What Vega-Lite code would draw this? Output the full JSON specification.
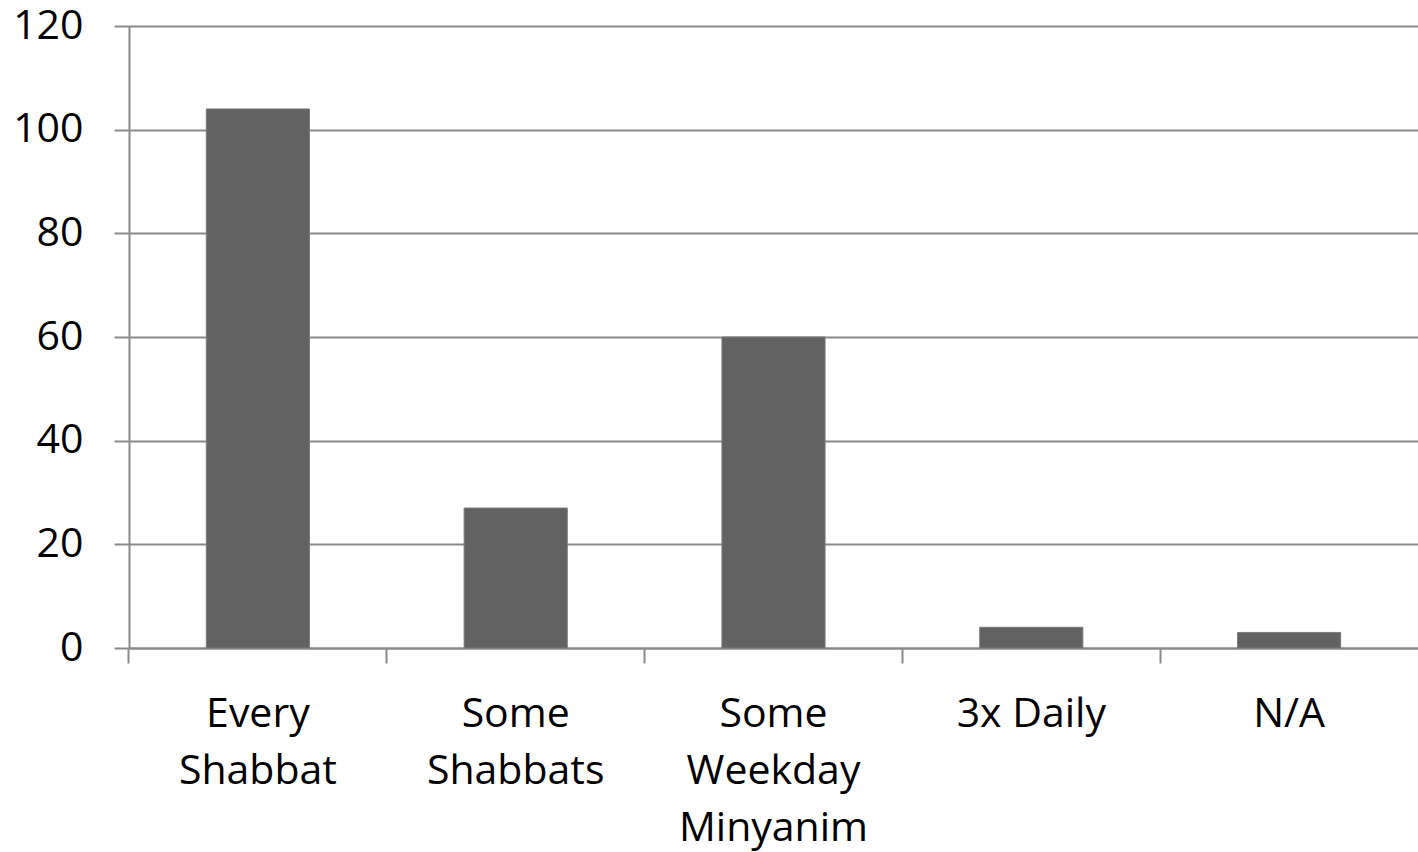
{
  "$schema": "https://vega.github.io/schema/vega-lite/v6.json",
  "width": 1289,
  "height": 622,
  "autosize": {"type": "none"},
  "padding": {"left": 129, "top": 26, "right": 0, "bottom": 204},
  "background": "white",
  "data": {
    "values": [
      {"category": "Every Shabbat", "count": 104},
      {"category": "Some Shabbats", "count": 27},
      {"category": "Some Weekday Minyanim", "count": 60},
      {"category": "3x Daily", "count": 4},
      {"category": "N/A", "count": 3}
    ]
  },
  "mark": {"type": "bar", "color": "#626262", "stroke": "#7a7a7a", "strokeWidth": 1},
  "encoding": {
    "x": {
      "field": "category",
      "type": "nominal",
      "sort": null,
      "scale": {"paddingInner": 0.6, "paddingOuter": 0.3},
      "axis": {
        "title": null,
        "labelAngle": 0,
        "labelFont": "Open Sans",
        "labelFontSize": 41,
        "labelColor": "#000000",
        "labelLineHeight": 57,
        "labelPadding": 31,
        "labelBaseline": "top",
        "labelExpr": "datum.label == '3x Daily' ? datum.label : split(datum.label, ' ')",
        "tickSize": 15,
        "tickColor": "#8a8a8a",
        "tickWidth": 2,
        "bandPosition": -0.75,
        "domainColor": "#8a8a8a",
        "domainWidth": 2,
        "grid": false,
        "labelOverlap": false,
        "labelLimit": 0
      }
    },
    "y": {
      "field": "count",
      "type": "quantitative",
      "scale": {"domain": [0, 120], "nice": false},
      "axis": {
        "title": null,
        "values": [0, 20, 40, 60, 80, 100, 120],
        "labelFont": "Open Sans",
        "labelFontSize": 41,
        "labelColor": "#000000",
        "labelPadding": 31,
        "tickSize": 15,
        "tickColor": "#8a8a8a",
        "tickWidth": 2,
        "domainColor": "#8a8a8a",
        "domainWidth": 2,
        "grid": true,
        "gridColor": "#8a8a8a",
        "gridWidth": 2
      }
    }
  },
  "config": {"view": {"stroke": null}}
}
